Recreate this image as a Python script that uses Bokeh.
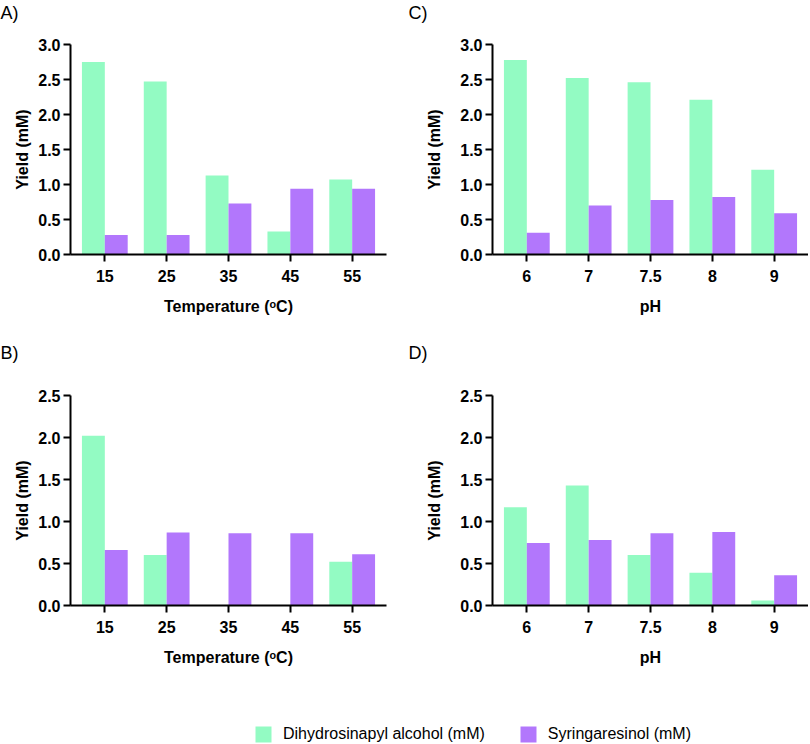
from bokeh.plotting import figure
from bokeh.models import (ColumnDataSource, FactorRange, Range1d, Title, Legend, LegendItem,
                          SingleIntervalTicker, NumeralTickFormatter)
from bokeh.transform import dodge
from bokeh.layouts import column, row
from bokeh.embed import file_html
from bokeh.resources import INLINE

# ---- data ----
temperatures = ["15", "25", "35", "45", "55"]
ph_values = ["6", "7", "7.5", "8", "9"]

a_dihydrosinapyl = [2.75, 2.47, 1.13, 0.33, 1.07]
a_syringaresinol = [0.28, 0.28, 0.73, 0.94, 0.94]

b_dihydrosinapyl = [2.02, 0.60, 0.0, 0.0, 0.52]
b_syringaresinol = [0.66, 0.87, 0.86, 0.86, 0.61]

c_dihydrosinapyl = [2.78, 2.52, 2.46, 2.21, 1.21]
c_syringaresinol = [0.31, 0.70, 0.78, 0.82, 0.59]

d_dihydrosinapyl = [1.17, 1.43, 0.60, 0.39, 0.06]
d_syringaresinol = [0.745, 0.78, 0.86, 0.875, 0.36]

series_names = ["Dihydrosinapyl alcohol (mM)", "Syringaresinol (mM)"]
panel_tags = ["A)", "B)", "C)", "D)"]
temp_label = "Temperature (\u1d52C)"
ph_label = "pH"
y_label = "Yield (mM)"

GREEN = "#93fbc3"
PURPLE = "#b277fc"
FONT = "Liberation Sans"


def make_panel(cats, green_vals, purple_vals, ymax, xlabel, tag,
               left, right, top, bottom, ylab_standoff, tag_offset, tag_gap):
    src = ColumnDataSource(dict(cat=cats, g=green_vals, s=purple_vals))
    p = figure(x_range=FactorRange(*cats, range_padding=0.022),
               y_range=Range1d(0, ymax),
               frame_width=316, frame_height=210,
               min_border_left=left, min_border_right=right,
               min_border_top=top, min_border_bottom=bottom,
               output_backend="svg", toolbar_location=None)
    p.vbar(x=dodge("cat", -0.185, range=p.x_range), top="g", width=0.37,
           source=src, fill_color=GREEN, line_color=None)
    p.vbar(x=dodge("cat", 0.185, range=p.x_range), top="s", width=0.37,
           source=src, fill_color=PURPLE, line_color=None)
    p.grid.visible = False
    p.outline_line_color = None
    p.yaxis.ticker = SingleIntervalTicker(interval=0.5, num_minor_ticks=0)
    p.yaxis.formatter = NumeralTickFormatter(format="0.0")
    for ax in (p.xaxis[0], p.yaxis[0]):
        ax.axis_line_width = 2
        ax.axis_line_color = "black"
        ax.major_tick_line_width = 2
        ax.major_tick_line_color = "black"
        ax.major_tick_out = 7
        ax.major_tick_in = 0
        ax.minor_tick_line_color = None
        ax.major_label_text_font = FONT
        ax.major_label_text_font_style = "bold"
        ax.major_label_text_font_size = "16px"
        ax.major_label_text_color = "black"
        ax.axis_label_text_font = FONT
        ax.axis_label_text_font_style = "bold"
        ax.axis_label_text_font_size = "16px"
        ax.axis_label_text_color = "black"
    p.xaxis.major_label_standoff = 8
    p.xaxis.axis_label = xlabel
    p.xaxis.axis_label_standoff = 13
    p.yaxis.major_label_standoff = 3
    p.yaxis.axis_label = y_label
    p.yaxis.axis_label_standoff = ylab_standoff
    # spacer title (blank) keeps the panel tag up in the top corner
    p.add_layout(Title(text=" ", standoff=tag_gap, text_font=FONT, text_font_size="18px"), "above")
    p.add_layout(Title(text=tag, align="left", offset=tag_offset, standoff=0,
                       text_font=FONT, text_font_size="18px", text_font_style="normal",
                       text_color="black"), "above")
    return p


pA = make_panel(temperatures, a_dihydrosinapyl, a_syringaresinol, 3.0, temp_label, panel_tags[0],
                70, 16, 44, 86, 4, -70, 0)
pC = make_panel(ph_values, c_dihydrosinapyl, c_syringaresinol, 3.0, ph_label, panel_tags[2],
                90, 0, 44, 86, 14, -84, 0)
pB = make_panel(temperatures, b_dihydrosinapyl, b_syringaresinol, 2.5, temp_label, panel_tags[1],
                70, 16, 55, 107, 4, -70, 11)
pD = make_panel(ph_values, d_dihydrosinapyl, d_syringaresinol, 2.5, ph_label, panel_tags[3],
                90, 0, 55, 107, 14, -84, 11)

# ---- legend strip ----
pl = figure(frame_width=808, frame_height=32, min_border=0,
            x_range=FactorRange(*temperatures), y_range=Range1d(0, 1),
            x_axis_location=None, y_axis_location=None,
            output_backend="svg", toolbar_location=None)
pl.grid.visible = False
pl.outline_line_color = None
leg_src = ColumnDataSource(dict(cat=temperatures, g=a_dihydrosinapyl, s=a_syringaresinol))
rg = pl.vbar(x="cat", top="g", width=0.3, source=leg_src, fill_color=GREEN, line_color=None,
             visible=False)
rp = pl.vbar(x="cat", top="s", width=0.3, source=leg_src, fill_color=PURPLE, line_color=None,
             visible=False)
leg = Legend(items=[LegendItem(label=series_names[0], renderers=[rg]),
                    LegendItem(label=series_names[1], renderers=[rp])],
             orientation="horizontal", location=(253, 0),
             glyph_width=20, glyph_height=20, label_height=20,
             label_standoff=10, spacing=33, padding=0, margin=0,
             border_line_color=None, background_fill_alpha=0,
             label_text_font=FONT, label_text_font_size="16px",
             label_text_color="black")
pl.add_layout(leg, "center")

layout = column(row(pA, pC), row(pB, pD), pl)
open("out.html", "w").write(file_html(layout, INLINE))
